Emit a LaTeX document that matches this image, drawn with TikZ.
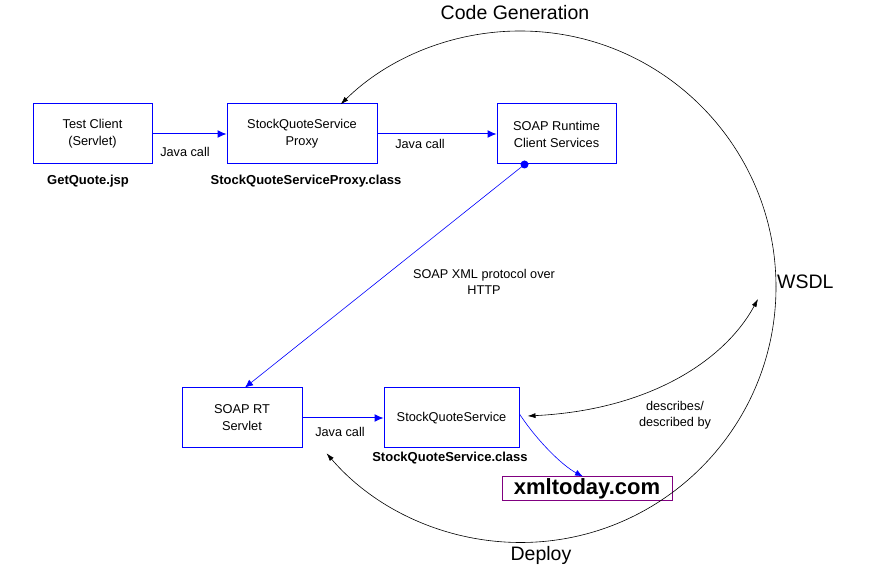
\documentclass[tikz,border=0pt]{standalone}
\usepackage{fontspec}
\setmainfont{Liberation Sans}
\usetikzlibrary{arrows.meta,calc}
\definecolor{linkblue}{RGB}{0,0,255}
\definecolor{webpurple}{RGB}{128,0,128}
\begin{document}
\begin{tikzpicture}[x=1pt,y=1pt,
  bx/.style={draw=linkblue, line width=1pt, align=center, inner sep=0pt, minimum height=60pt, font=\fontsize{12.8}{17}\selectfont},
  lbl/.style={font=\fontsize{12.7}{16}\selectfont, align=center, inner sep=0pt},
  blbl/.style={font=\fontsize{13}{16}\selectfont\bfseries, inner sep=0pt},
  big/.style={font=\fontsize{19.5}{22}\selectfont, inner sep=0pt},
  barrow/.style={draw=linkblue, line width=1pt, -{Latex[length=9pt,width=8pt]}},
  thinb/.style={draw=linkblue, line width=0.6pt},
  karrow/.style={draw=black, line width=0.6pt},
  ktip/.style={-{Latex[length=8pt,width=5pt]}},
]
\useasboundingbox (0,0) rectangle (895,570);

% boxes
\node[bx, minimum width=119pt] (client) at (92.5,436) {Test Client\\(Servlet)};
\node[bx, minimum width=150pt] (proxy) at (302,436) {StockQuoteService\\Proxy};
\node[bx, minimum width=119pt] (soaprt) at (556.5,436) {SOAP Runtime\\Client Services};
\node[bx, minimum width=120pt] (servlet) at (242,152) {SOAP RT\\Servlet};
\node[bx, minimum width=135pt] (sqs) at (451.5,152) {StockQuoteService};
\node[draw=webpurple, line width=1pt, minimum width=170pt, minimum height=24pt, inner sep=0pt,
      font=\fontsize{22}{22}\selectfont\bfseries] (xmlt) at (587,81) {xmltoday.com};

% labels
\node[blbl] (getq) at (88,389) {GetQuote.jsp};
\node[blbl] (proxycls) at (306,389) {StockQuoteServiceProxy.class};
\node[blbl] (sqscls) at (450,112) {StockQuoteService.class};
\node[lbl] (jc1) at (185,418) {Java call};
\node[lbl] (jc2) at (420,426) {Java call};
\node[lbl] (jc3) at (340,138) {Java call};
\node[lbl] (soapxml) at (484,288) {SOAP XML protocol over\\HTTP};
\node[lbl] (descr) at (675,155) {describes/\\described by};
\node[big] (codegen) at (515,557) {Code Generation};
\node[big, anchor=west] (wsdl) at (777,288) {WSDL};
\node[big] (deploy) at (541,15) {Deploy};

% blue connectors
\draw[barrow] (client.east) -- (proxy.west);
\draw[barrow] (proxy.east) -- (soaprt.west);
\draw[barrow] (servlet.east) -- (sqs.west);
\coordinate (dotpt) at ($(soaprt.south west)+(28,0)$);
\fill[linkblue] (dotpt) circle (4pt);
\draw[thinb, -{Latex[length=8pt,width=7pt]}] (dotpt) -- ($(servlet.north)+(3,0)$);
\draw[thinb, -{Latex[length=8pt,width=6pt]}] ($(sqs.east)+(0,4)$) .. controls (538,128) and (563,104) .. ($(xmlt.north)+(-4,0)$);

% black arcs
\coordinate (wsdlpt) at (776,283);
\draw[karrow, ktip] (wsdlpt) arc[start angle=0, end angle=134.5, radius=256pt];
\draw[karrow, ktip] (wsdlpt) arc[start angle=0, end angle=-139.4, radius=255.5pt];
\coordinate (wsdlin) at (758,271);
\draw[karrow, {Latex[length=8pt,width=5pt]}-{Latex[length=8pt,width=5pt]}] ($(sqs.east)+(8,2)$) .. controls (650,160) and (725,210) .. (wsdlin);
\end{tikzpicture}
\end{document}
